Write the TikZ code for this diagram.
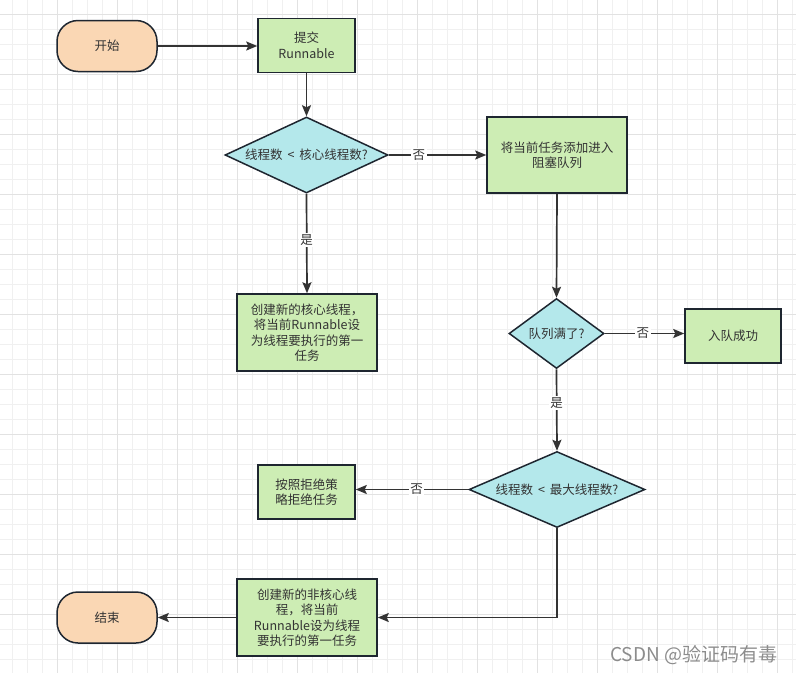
\documentclass[tikz,border=0pt]{standalone}
\usepackage{fontspec}
\setmainfont{Noto Sans CJK SC}
\newfontfamily\cjk{Noto Sans CJK SC}
\usetikzlibrary{shapes.geometric,arrows.meta}
\definecolor{gridminor}{HTML}{F0F0F0}
\definecolor{gridmajor}{HTML}{E2E2E2}
\definecolor{orangefill}{HTML}{FAD7B4}
\definecolor{greenfill}{HTML}{CDEDB4}
\definecolor{cyanfill}{HTML}{B4E8EB}
\definecolor{border}{HTML}{1E2630}
\definecolor{edgecol}{HTML}{333333}
\definecolor{txt}{HTML}{333333}
\tikzset{
  base/.style={draw=border, line width=1.5pt, text=txt, font=\cjk\fontsize{12.5}{15.5}\selectfont, align=center, inner sep=0pt},
  term/.style={base, fill=orangefill, rounded corners=21pt, minimum width=100pt, minimum height=51pt},
  proc/.style={base, fill=greenfill},
  dec/.style={base, fill=cyanfill, diamond},
  conn/.style={draw=edgecol, line width=1.7pt, -{Stealth[length=11pt,width=9pt,inset=2pt]}},
  lbl/.style={fill=white, text=txt, font=\cjk\fontsize{12.5}{15}\selectfont, inner sep=1.5pt}
}
\begin{document}
\begin{tikzpicture}[x=1pt,y=-1pt]
\useasboundingbox (0,0) rectangle (796,673);
\fill[white] (0,0) rectangle (796,673);
% grid
\foreach \i in {0,...,52} {
  \pgfmathsetmacro{\xx}{12+15*\i}
  \draw[gridminor, line width=0.8pt] (\xx,0) -- (\xx,673);
}
\foreach \i in {0,...,44} {
  \pgfmathsetmacro{\yy}{14+15*\i}
  \draw[gridminor, line width=0.8pt] (0,\yy) -- (796,\yy);
}
\foreach \i in {0,...,12} {
  \pgfmathsetmacro{\xx}{57+60*\i}
  \draw[gridmajor, line width=0.9pt] (\xx,0) -- (\xx,673);
}
\foreach \i in {0,...,11} {
  \pgfmathsetmacro{\yy}{14+60*\i}
  \draw[gridmajor, line width=0.9pt] (0,\yy) -- (796,\yy);
}
% nodes
\node[term] (start) at (107,46) {开始};
\node[proc, minimum width=97pt, minimum height=54pt] (submit) at (306.5,45.5) {提交\\Runnable};
\node[dec, shape aspect=2.14, minimum width=163pt, minimum height=76pt] (d1) at (306.5,155) {线程数 \,<\, 核心线程数?};
\node[proc, minimum width=140pt, minimum height=76pt] (queue) at (557,155) {将当前任务添加进入\\阻塞队列};
\node[proc, minimum width=140pt, minimum height=77pt] (core) at (307,332.5) {创建新的核心线程，\\将当前Runnable设\\为线程要执行的第一\\任务};
\node[dec, shape aspect=1.36, minimum width=95pt, minimum height=70pt] (d2) at (556.5,333.5) {队列满了?};
\node[proc, minimum width=96pt, minimum height=54pt] (ok) at (733,336) {入队成功};
\node[dec, shape aspect=2.32, minimum width=176pt, minimum height=76pt] (d3) at (557,489.5) {线程数 \,<\, 最大线程数?};
\node[proc, minimum width=97pt, minimum height=54pt] (reject) at (306.5,492) {按照拒绝策\\略拒绝任务};
\node[proc, minimum width=140pt, minimum height=77pt] (noncore) at (307,617.5) {创建新的非核心线\\程，将当前\\Runnable设为线程\\要执行的第一任务};
\node[term] (end) at (107,617.5) {结束};
% connectors
\draw[conn] (start.east) -- (start.east -| submit.west);
\draw[conn] (submit.south) -- (d1.north);
\draw[conn] (d1.east) -- node[lbl, pos=0.31] {否} (queue.west);
\draw[conn] (d1.south) -- node[lbl, pos=0.46] {是} (core.north);
\draw[conn] (queue.south) -- (d2.north);
\draw[conn] (d2.east) -- node[lbl, pos=0.48] {否} (d2.east -| ok.west);
\draw[conn] (d2.south) -- node[lbl, pos=0.42] {是} (d3.north);
\draw[conn] (d3.west) -- node[lbl, pos=0.46] {否} (d3.west -| reject.east);
\draw[conn] (d3.south) |- (noncore.east);
\draw[conn] (noncore.west) -- (end.east);
% watermark
\node[text=black!45, font=\cjk\fontsize{19}{21}\selectfont, anchor=west, inner sep=0pt] (wm) at (610,655) {CSDN @验证码有毒};
\end{tikzpicture}
\end{document}
